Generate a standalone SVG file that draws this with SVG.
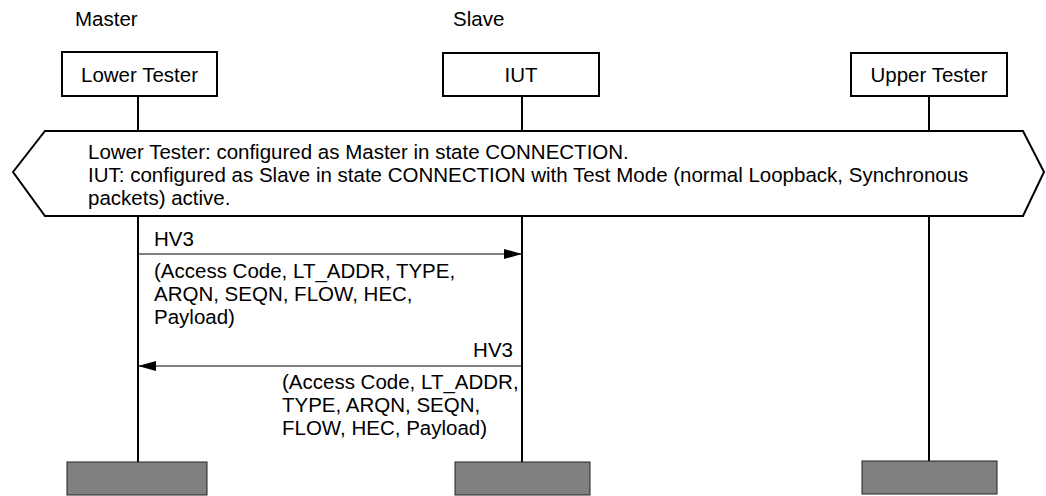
<svg xmlns="http://www.w3.org/2000/svg" width="1046" height="496" viewBox="0 0 1046 496">
  <style>
    text { font-family: "Liberation Sans", Arial, sans-serif; font-size: 20.5px; fill: #000; }
    .box { fill: #fff; stroke: #000; stroke-width: 2; }
    .life { stroke: #000; stroke-width: 2; fill: none; }
    .end { fill: #808080; stroke: #222; stroke-width: 1; }
    .msg { stroke: #000; stroke-width: 1; fill: none; }
    .mid { text-anchor: middle; }
    .rt { text-anchor: end; }
  </style>
  <defs>
    <marker id="arrow" viewBox="0 0 18 10" refX="18" refY="5" markerWidth="18" markerHeight="10" markerUnits="userSpaceOnUse" orient="auto">
      <path d="M0,0 L18,5 L0,10 Z" fill="#000"/>
    </marker>
  </defs>

  <rect width="1046" height="496" fill="#fff"/>

  <!-- role captions -->
  <text x="75" y="26">Master</text>
  <text x="453" y="26">Slave</text>

  <!-- lifelines -->
  <g id="lifelines">
    <line class="life" x1="138" y1="96" x2="138" y2="462"/>
    <line class="life" x1="522" y1="96" x2="522" y2="462"/>
    <line class="life" x1="929" y1="96" x2="929" y2="462"/>
  </g>

  <!-- instance heads -->
  <g id="lower-tester">
    <rect class="box" x="62" y="52" width="155" height="44"/>
    <text class="mid" x="139.5" y="82">Lower Tester</text>
  </g>
  <g id="iut">
    <rect class="box" x="443" y="53" width="156" height="43"/>
    <text class="mid" x="521" y="82">IUT</text>
  </g>
  <g id="upper-tester">
    <rect class="box" x="851" y="53" width="156" height="43"/>
    <text class="mid" x="929" y="82">Upper Tester</text>
  </g>

  <!-- initial condition -->
  <g id="precondition">
    <polygon class="box" points="13,172 45,131 1023,131 1044,172 1023,216 45,216"/>
    <text x="88" y="159">Lower Tester: configured as Master in state CONNECTION.</text>
    <text x="88" y="182">IUT: configured as Slave in state CONNECTION with Test Mode (normal Loopback, Synchronous</text>
    <text x="88" y="205">packets) active.</text>
  </g>

  <!-- messages -->
  <g id="connectors">
    <line class="msg" x1="138" y1="254" x2="522" y2="254" marker-end="url(#arrow)"/>
    <line class="msg" x1="522" y1="366" x2="138" y2="366" marker-end="url(#arrow)"/>
  </g>
  <g id="msg-labels">
    <text x="154" y="246">HV3</text>
    <text x="154" y="278">(Access Code, LT_ADDR, TYPE,</text>
    <text x="154" y="301">ARQN, SEQN, FLOW, HEC,</text>
    <text x="154" y="324">Payload)</text>
    <text class="rt" x="513" y="357">HV3</text>
    <text x="282" y="389">(Access Code, LT_ADDR,</text>
    <text x="282" y="412">TYPE, ARQN, SEQN,</text>
    <text x="282" y="435">FLOW, HEC, Payload)</text>
  </g>

  <!-- instance ends -->
  <g id="ends">
    <rect class="end" x="67" y="462" width="140" height="33"/>
    <rect class="end" x="455" y="462" width="135" height="33"/>
    <rect class="end" x="862" y="461" width="135" height="33"/>
  </g>
</svg>
